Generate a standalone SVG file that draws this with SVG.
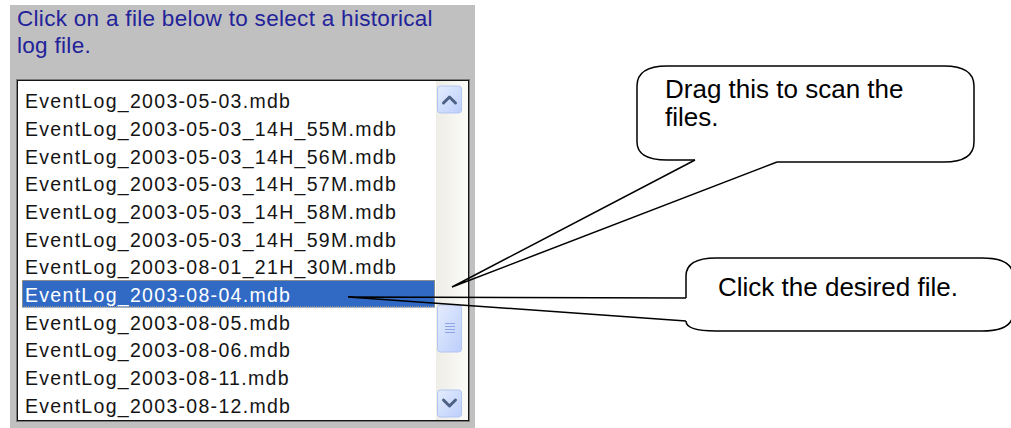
<svg xmlns="http://www.w3.org/2000/svg" width="1011" height="428" viewBox="0 0 1011 428">
  <defs>
    <linearGradient id="trackFill" x1="0" y1="0" x2="1" y2="0">
      <stop offset="0" stop-color="#eeede6"/>
      <stop offset="1" stop-color="#fbfbf8"/>
    </linearGradient>
    <linearGradient id="btnFill" x1="0" y1="0" x2="1" y2="1">
      <stop offset="0" stop-color="#e4ecfd"/>
      <stop offset="1" stop-color="#bccefb"/>
    </linearGradient>
    <style>
      .heading { font-family: "Liberation Sans", Arial, sans-serif; font-size: 22.5px; letter-spacing: 0.3px; fill: #22229a; }
      .item { font-family: "Liberation Sans", Arial, sans-serif; font-size: 19.5px; letter-spacing: 1.3px; fill: #141414; }
      .item.sel { fill: #ffffff; }
      .btn { fill: url(#btnFill); stroke: #b3c6f2; stroke-width: 1; }
      .chev { fill: none; stroke: #4d6185; stroke-width: 3; stroke-linecap: round; stroke-linejoin: round; }
      .grip { stroke: #8ea6e6; stroke-width: 1.2; }
      .callout { fill: none; stroke: #000; stroke-width: 1.5; stroke-linejoin: round; }
      .note { font-family: "Liberation Sans", Arial, sans-serif; font-size: 26px; fill: #000; }
      .pointer { fill: none; stroke: #000; stroke-width: 1.5; stroke-linejoin: miter; }
    </style>
  </defs>

  <rect width="1011" height="428" fill="#ffffff"/>

  <!-- dialog panel -->
  <g id="panel">
    <rect x="10" y="5" width="465" height="423" fill="#c0c0c0"/>
    <text class="heading" x="17" y="26">Click on a file below to select a historical</text>
    <text class="heading" x="17" y="53">log file.</text>
  </g>

  <!-- file list box -->
  <g id="file-list">
    <rect x="16" y="79" width="454" height="343" fill="#ffffff"/>
    <rect x="16.5" y="79.5" width="453" height="342" fill="none" stroke="#7a7a7a"/>
    <rect x="17.5" y="80.5" width="451" height="340" fill="none" stroke="#151515"/>

    <!-- selected row -->
    <rect x="22" y="280" width="413" height="27.5" fill="#316ac5"/>
    <rect x="22.5" y="280.5" width="412" height="26.5" fill="none" stroke="#e2b25a" stroke-dasharray="1 1"/>

    <text class="item" x="25" y="108.3">EventLog_2003-05-03.mdb</text>
    <text class="item" x="25" y="136">EventLog_2003-05-03_14H_55M.mdb</text>
    <text class="item" x="25" y="163.6">EventLog_2003-05-03_14H_56M.mdb</text>
    <text class="item" x="25" y="191.3">EventLog_2003-05-03_14H_57M.mdb</text>
    <text class="item" x="25" y="219">EventLog_2003-05-03_14H_58M.mdb</text>
    <text class="item" x="25" y="246.6">EventLog_2003-05-03_14H_59M.mdb</text>
    <text class="item" x="25" y="274.3">EventLog_2003-08-01_21H_30M.mdb</text>
    <text class="item sel" x="25" y="301.9">EventLog_2003-08-04.mdb</text>
    <text class="item" x="25" y="329.6">EventLog_2003-08-05.mdb</text>
    <text class="item" x="25" y="357.2">EventLog_2003-08-06.mdb</text>
    <text class="item" x="25" y="384.9">EventLog_2003-08-11.mdb</text>
    <text class="item" x="25" y="412.6">EventLog_2003-08-12.mdb</text>

    <!-- vertical scroll bar -->
    <rect x="436" y="81" width="32" height="339" fill="url(#trackFill)"/>
    <rect class="btn" x="437.5" y="86" width="24" height="27" rx="3"/>
    <path class="chev" d="M443.5,103 L449.5,97 L455.5,103"/>
    <rect class="btn" x="437.5" y="305" width="24" height="47" rx="3"/>
    <path class="grip" d="M445,323.5 H455 M445,326.5 H455 M445,329.5 H455 M445,332.5 H455"/>
    <rect class="btn" x="437.5" y="390" width="24" height="27" rx="3"/>
    <path class="chev" d="M443.5,400 L449.5,406 L455.5,400"/>
  </g>

  <!-- callout: drag the scroll thumb -->
  <g id="callout-drag">
    <path class="callout" d="M695,160 H667 Q637,160 637,142 V86 Q637,66 667,66 H944 Q974,66 974,86 V142 Q974,162 944,162 H777"/>
    <text class="note" x="665" y="98">Drag this to scan the</text>
    <text class="note" x="665" y="126">files.</text>
  </g>

  <!-- callout: pick a file -->
  <g id="callout-click">
    <path class="callout" d="M686,298 V276 Q686,258 716,258 H982 Q1013,258 1013,276 V313 Q1013,331 982,331 H716 Q686,331 686,321"/>
    <text class="note" x="718" y="296">Click the desired file.</text>
  </g>

  <!-- callout pointers -->
  <g id="connectors">
    <path class="pointer" d="M695,160 L452,287 L777,162"/>
    <path class="pointer" d="M686,298 L348,297 L686,321"/>
  </g>
</svg>
